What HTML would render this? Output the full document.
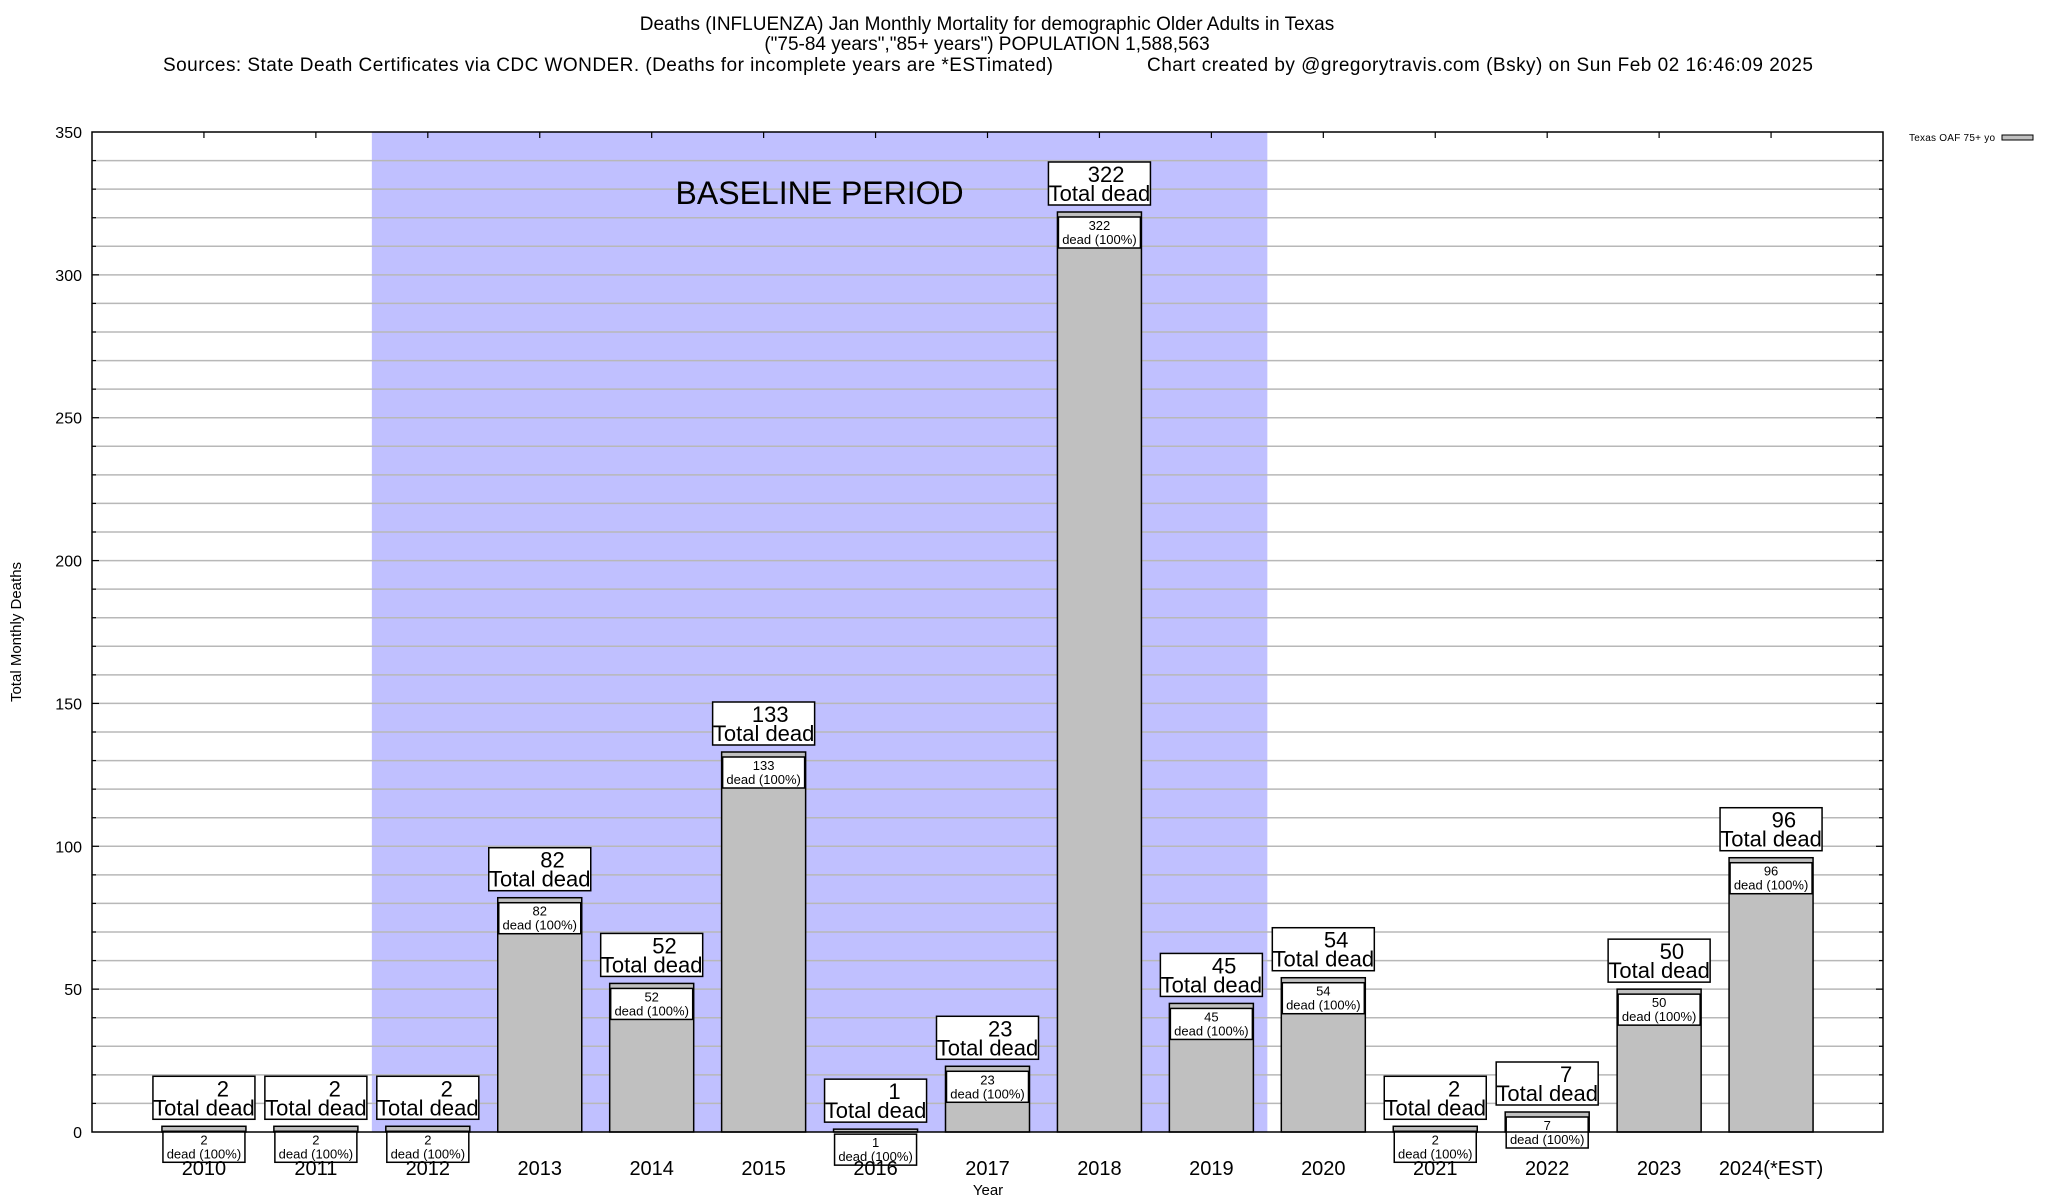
<!DOCTYPE html>
<html><head><meta charset="utf-8"><style>
html,body{margin:0;padding:0;background:#fff}
svg{display:block;font-family:"Liberation Sans",sans-serif}
</style></head><body>
<svg id="chart" width="2048" height="1200" xmlns="http://www.w3.org/2000/svg">
<g id="titles" font-size="19" fill="#000">
<text x="987" y="30" text-anchor="middle">Deaths (INFLUENZA) Jan Monthly Mortality for demographic Older Adults in Texas</text>
<text x="987" y="50" text-anchor="middle">("75-84 years","85+ years") POPULATION 1,588,563</text>
<text x="163" y="71" textLength="890">Sources: State Death Certificates via CDC WONDER. (Deaths for incomplete years are *ESTimated)</text>
<text x="1147" y="71" textLength="666">Chart created by @gregorytravis.com (Bsky) on Sun Feb 02 16:46:09 2025</text>
</g>
<g id="plot"></g>
</svg>
<script>
const years = ['2010','2011','2012','2013','2014','2015','2016','2017','2018','2019','2020','2021','2022','2023','2024(*EST)'];
const deaths = [2,2,2,82,52,133,1,23,322,45,54,2,7,50,96];
const yTicks = [0,50,100,150,200,250,300,350];
const baseline = [2011.5, 2019.5];

const L=92,R=1883,T=132,B=1132;
const x0=2009,x1=2025,yMax=350;
const xs = v => L + (v - x0) / (x1 - x0) * (R - L);
const ys = v => B - v / yMax * (B - T);
const NS='http://www.w3.org/2000/svg';
const g=document.getElementById('plot');
function mk(tag,attrs,parent){const e=document.createElementNS(NS,tag);for(const k in attrs)e.setAttribute(k,attrs[k]);(parent||g).appendChild(e);return e;}

const sh=mk('rect',{x:xs(baseline[0]),y:T,width:xs(baseline[1])-xs(baseline[0]),height:B-T,fill:'#c0c0ff'});



for(let v=10;v<yMax;v+=10){
  const gl=mk('line',{x1:L,x2:R,y1:ys(v),y2:ys(v),stroke:'#b8b8b8','stroke-width':1.5});
  
  
  const len = v%50===0?7:4;
  mk('line',{x1:L,x2:L+len,y1:ys(v),y2:ys(v),stroke:'#000','stroke-width':1.2});
  mk('line',{x1:R-len,x2:R,y1:ys(v),y2:ys(v),stroke:'#000','stroke-width':1.2});
}
const bt=mk('text',{x:(xs(baseline[0])+xs(baseline[1]))/2,y:204,'text-anchor':'middle','font-size':32});
bt.textContent='BASELINE PERIOD';



yTicks.forEach(v=>{
  const t=mk('text',{x:82,y:ys(v)+6,'text-anchor':'end','font-size':16});
  t.textContent=v;
  
  
});

const bw=84;
deaths.forEach((d,i)=>{
  const cx=xs(2010+i), top=ys(d);
  const bar=mk('rect',{x:cx-bw/2,y:top,width:bw,height:B-top,fill:'#c0c0c0',stroke:'#000','stroke-width':1.5});
  
  
  mk('line',{x1:cx,x2:cx,y1:T,y2:T+6,stroke:'#000','stroke-width':1.2});
  const bg=mk('g',{});
  
  
  const by=top-7-43;
  mk('rect',{x:cx-51,y:by,width:102,height:43,fill:'#fff',stroke:'#000','stroke-width':1.5},bg);
  const n=mk('text',{x:cx+25,y:by+20,'text-anchor':'end','font-size':22},bg); n.textContent=d;
  const td=mk('text',{x:cx,y:by+39,'text-anchor':'middle','font-size':22},bg); td.textContent='Total dead';
  const sg=mk('g',{});
  
  
  const sy=top+5;
  mk('rect',{x:cx-41,y:sy,width:82,height:31,fill:'#fff',stroke:'#000','stroke-width':1.5},sg);
  const sn=mk('text',{x:cx,y:sy+13,'text-anchor':'middle','font-size':13},sg); sn.textContent=d;
  const sd=mk('text',{x:cx,y:sy+27,'text-anchor':'middle','font-size':13},sg); sd.textContent='dead (100%)';
  const xl=mk('text',{x:cx,y:1175,'text-anchor':'middle','font-size':20});
  xl.textContent=years[i];
  
  
});

const fr=mk('rect',{x:L,y:T,width:R-L,height:B-T,fill:'none',stroke:'#000','stroke-width':1.5});



const xt=mk('text',{x:988,y:1195,'text-anchor':'middle','font-size':15});
xt.textContent='Year';


const yt=mk('text',{x:0,y:0,'text-anchor':'middle','font-size':15,transform:'translate(21,632) rotate(-90)'});
yt.textContent='Total Monthly Deaths';



const lg=mk('g',{});


const lt=mk('text',{x:1909,y:141,'font-size':10,textLength:86},lg); lt.textContent='Texas OAF 75+ yo';
mk('rect',{x:2002,y:135,width:31,height:5,fill:'#c0c0c0',stroke:'#000','stroke-width':1},lg);
</script>
</body></html>
